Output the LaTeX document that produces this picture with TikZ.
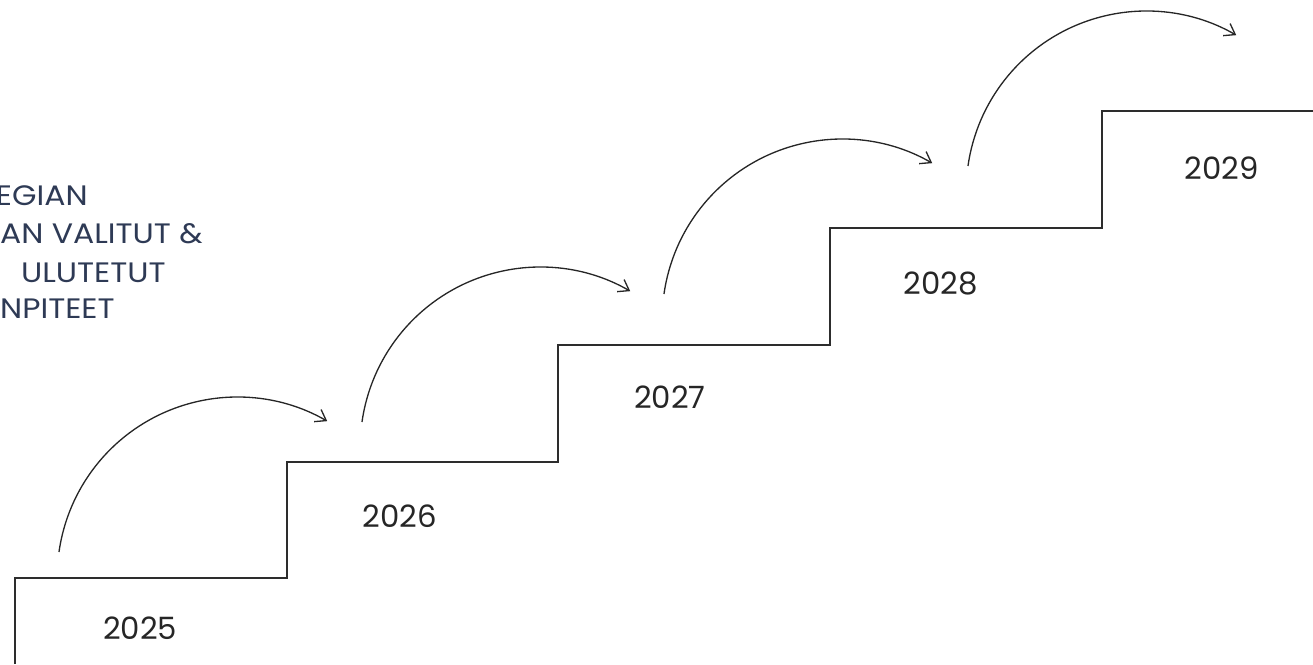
\documentclass[tikz,border=0pt]{standalone}
\usepackage{fontspec}
\setmainfont{Poppins}
\usetikzlibrary{arrows.meta}
\definecolor{stairgray}{RGB}{45,45,45}
\definecolor{goalnavy}{RGB}{46,58,85}
\tikzset{>={Straight Barb[length=2mm,width=2.8mm]}}
\tikzset{
  stair/.style={draw=stairgray,line width=0.9pt},
  jump/.style={->,draw=black!85,line width=0.75pt},
  yearlabel/.style={font=\fontsize{17.5}{20}\selectfont,text=black!85},
  goalline/.style={anchor=base east,inner sep=0pt,text=goalnavy,
    font=\fontsize{16}{20}\selectfont\addfontfeature{FakeStretch=1.12}}
}

\begin{document}
\begin{tikzpicture}[x=0.02cm,y=0.02cm]
    \useasboundingbox (0,0) rectangle (1313,664);
    % staircase
    \draw[stair] (15,0) -- (15,86) -- (287,86) -- (287,202) -- (558,202) -- (558,319)
      -- (830,319) -- (830,436) -- (1102,436) -- (1102,553) -- (1313,553);
    % years on the steps
    \node[yearlabel] (y2025) at (140,36) {2025};
    \node[yearlabel] (y2026) at (400,148) {2026};
    \node[yearlabel] (y2027) at (670,267) {2027};
    \node[yearlabel] (y2028) at (941,381) {2028};
    \node[yearlabel] (y2029) at (1222,496) {2029};
    % jumps between steps
    \foreach \n/\x/\y in {1/59/112,2/362/242,3/664/370,4/968/498} {
        \coordinate (jump\n) at (\x,\y);
        \draw[jump] (jump\n) arc[start angle=172, end angle=60, radius=180];
      }
    % goals text, cut at the left edge
    \node[goalline] (goal1) at (88,459) {EGIAN};
    \node[goalline] (goal2) at (203,421) {AN VALITUT \&};
    \node[goalline] (goal3) at (166,382) {ULUTETUT};
    \node[goalline] (goal4) at (115,346) {NPITEET};
  \end{tikzpicture}
\end{document}
